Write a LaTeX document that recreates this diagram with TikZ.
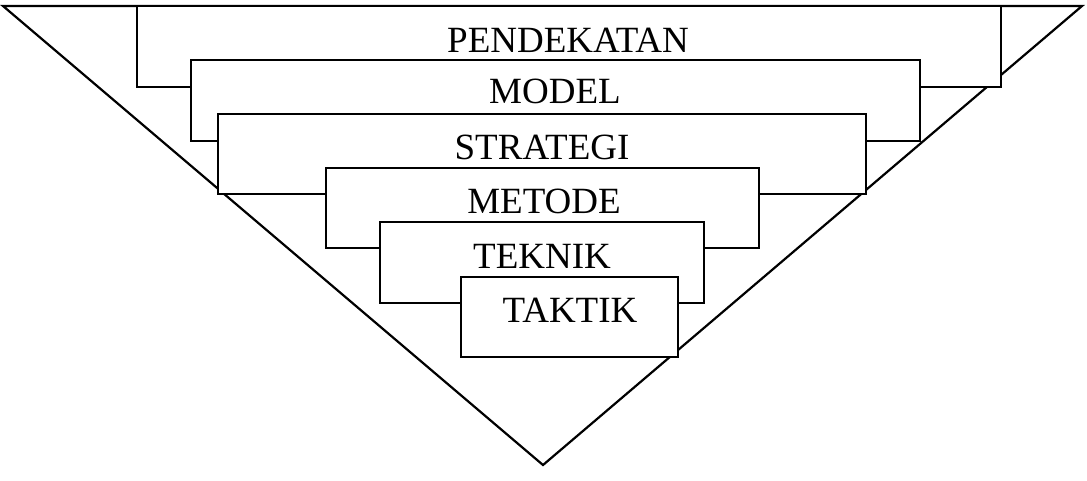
\documentclass[tikz,border=0pt]{standalone}
\usepackage{fontspec}
\setmainfont{Liberation Serif}

\begin{document}
\begin{tikzpicture}[x=1pt, y=-1pt,
    level/.style={draw, fill=white, line width=2.2pt, inner sep=0pt, outer sep=0pt, anchor=north west},
    word/.style={inner sep=0pt, anchor=base, font=\fontsize{37}{42}\selectfont}]
    \useasboundingbox (0,0) rectangle (1087,480);
    % the funnel
    \coordinate (tl) at (3,6);
    \coordinate (tr) at (1082,6);
    \coordinate (tip) at (543,465);
    \draw[line width=2.2pt, line join=miter] (tl) -- (tr) -- (tip) -- cycle;
    % nested levels
    \node[level, minimum width=864, minimum height=81] (pendekatan) at (137,6) {};
    \node[level, minimum width=729, minimum height=81] (model) at (191,60) {};
    \node[level, minimum width=648, minimum height=80] (strategi) at (218,114) {};
    \node[level, minimum width=433, minimum height=80] (metode) at (326,168) {};
    \node[level, minimum width=324, minimum height=81] (teknik) at (380,222) {};
    \node[level, minimum width=217, minimum height=80] (taktik) at (461,277) {};
    % names
    \node[word] (lpendekatan) at (568,52) {PENDEKATAN};
    \node[word] (lmodel) at (555,103) {MODEL};
    \node[word] (lstrategi) at (542,159) {STRATEGI};
    \node[word] (lmetode) at (544,213) {METODE};
    \node[word] (lteknik) at (542,268) {TEKNIK};
    \node[word] (ltaktik) at (570,322) {TAKTIK};
\end{tikzpicture}
\end{document}
